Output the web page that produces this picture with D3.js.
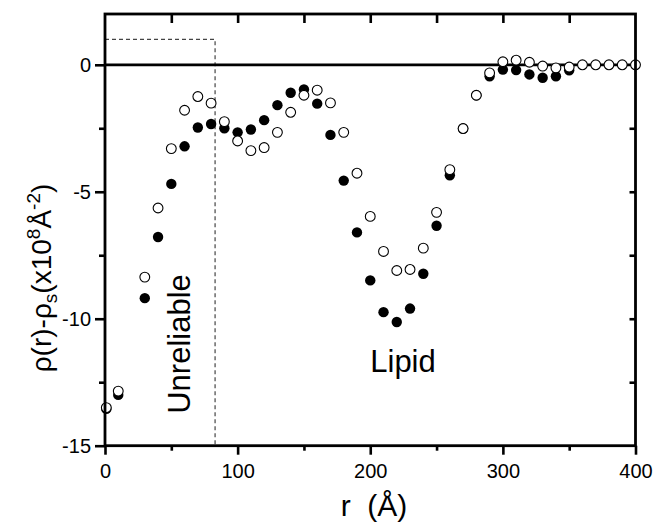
<!DOCTYPE html>
<html><head><meta charset="utf-8">
<script src="https://cdn.jsdelivr.net/npm/d3@7"></script>
<style>body{margin:0;background:#fff}svg{display:block}text{font-family:"Liberation Sans",Arial,sans-serif;fill:#000}</style>
</head><body>
<svg id="c" width="655" height="524"></svg>
<script>
// Data
const rFilled = [1,10,30,40,50,60,70,80,90,100,110,120,130,140,150,160,170,180,190,200,210,220,230,240,250,260,270,280,290,300,310,320,330,340,350];
const vFilled = [-13.55,-13.0,-9.19,-6.78,-4.69,-3.21,-2.47,-2.33,-2.50,-2.66,-2.55,-2.18,-1.59,-1.10,-0.97,-1.53,-2.76,-4.56,-6.60,-8.49,-9.74,-10.13,-9.60,-8.23,-6.34,-4.35,-2.51,-1.20,-0.45,-0.19,-0.21,-0.38,-0.51,-0.45,-0.22];
const rOpen = [1,10,30,40,50,60,70,80,90,100,110,120,130,140,150,160,170,180,190,200,210,220,230,240,250,260,270,280,290,300,310,320,330,340,350,360,370,380,390,400];
const vOpen = [-13.5,-12.85,-8.36,-5.64,-3.30,-1.79,-1.25,-1.51,-2.24,-3.0,-3.38,-3.26,-2.66,-1.87,-1.20,-1.0,-1.50,-2.66,-4.27,-5.97,-7.35,-8.10,-8.06,-7.22,-5.81,-4.13,-2.51,-1.20,-0.32,0.12,0.18,0.10,-0.05,-0.12,-0.09,0,0,0,0,0];
const xTicks = [0,100,200,300,400];
const xMinor = [50,150,250,350];
const yTicks = [-15,-10,-5,0];
const yMinor = [-12.5,-7.5,-2.5];
const unreliable = {r0:0, r1:83, v0:-15, v1:1};

const svg = d3.select("#c");
const L=105, R=635.5, T=14, B=445.7;
const x = d3.scaleLinear().domain([0,400]).range([L,R]);
const y = d3.scaleLinear().domain([-15,2]).range([B,T]);
const fmt = d => String(d);

// dashed unreliable box
svg.append("rect")
  .attr("x", x(unreliable.r0)).attr("y", y(unreliable.v1))
  .attr("width", x(unreliable.r1)-x(unreliable.r0))
  .attr("height", y(unreliable.v0)-y(unreliable.v1))
  .attr("fill","none").attr("stroke","#444").attr("stroke-width",1.2)
  .attr("stroke-dasharray","4,3");

// zero line
svg.append("line").attr("x1",x(0)).attr("x2",x(400)).attr("y1",y(0)).attr("y2",y(0))
  .attr("stroke","#000").attr("stroke-width",2.8);

// points
svg.append("g").selectAll("circle").data(rFilled.map((r,i)=>[r,vFilled[i]])).join("circle")
  .attr("cx",d=>x(d[0])).attr("cy",d=>y(d[1])).attr("r",5.2).attr("fill","#000");
svg.append("g").selectAll("circle").data(rOpen.map((r,i)=>[r,vOpen[i]])).join("circle")
  .attr("cx",d=>x(d[0])).attr("cy",d=>y(d[1])).attr("r",4.9).attr("fill","#fff")
  .attr("stroke","#000").attr("stroke-width",1.1);

// axes
function styleAxis(g){
  g.select(".domain").remove();
  g.selectAll("line").attr("stroke","#000").attr("stroke-width",2.6);
  g.selectAll("text").style("font-family",'"Liberation Sans",Arial,sans-serif').style("font-size","20px").attr("fill","#000");
}
// bottom
svg.append("g").attr("transform",`translate(0,${B})`)
  .call(d3.axisBottom(x).tickValues(xTicks).tickSize(9).tickPadding(9).tickFormat(fmt))
  .call(styleAxis);
svg.append("g").attr("transform",`translate(0,${B})`)
  .call(d3.axisBottom(x).tickValues(xMinor).tickSize(5).tickFormat(""))
  .call(styleAxis);
// left
svg.append("g").attr("transform",`translate(${L},0)`)
  .call(d3.axisLeft(y).tickValues(yTicks).tickSize(10).tickPadding(4).tickFormat(fmt))
  .call(styleAxis);
svg.append("g").attr("transform",`translate(${L},0)`)
  .call(d3.axisLeft(y).tickValues(yMinor).tickSize(6).tickFormat(""))
  .call(styleAxis);
// top (inward)
svg.append("g").attr("transform",`translate(0,${T})`)
  .call(d3.axisBottom(x).tickValues(xMinor.concat(xTicks.slice(1,-1))).tickSize(9).tickFormat(""))
  .call(styleAxis);
// right (inward)
svg.append("g").attr("transform",`translate(${R},0)`)
  .call(d3.axisLeft(y).tickValues(yTicks.concat(yMinor).filter(v=>v>-15 && v<0)).tickSize(6).tickFormat(""))
  .call(styleAxis);

// frame
svg.append("rect").attr("x",L).attr("y",T).attr("width",R-L).attr("height",B-T)
  .attr("fill","none").attr("stroke","#000").attr("stroke-width",2.8);

// labels
svg.append("text").attr("x",403).attr("y",372).attr("text-anchor","middle")
  .style("font-size","31px").text("Lipid");
svg.append("text").attr("transform","translate(190,344) rotate(-90)").attr("text-anchor","middle")
  .style("font-size","31px").text("Unreliable");

// x title
svg.append("text").attr("x",374).attr("y",516).attr("text-anchor","middle")
  .style("font-size","30px").style("white-space","pre").text("r  (Å)");

// y title
const yt = svg.append("text").attr("transform","translate(51,278) rotate(-90)")
  .attr("text-anchor","middle").style("font-size","28px");
yt.append("tspan").text("ρ(r)-ρ");
yt.append("tspan").attr("dy",6).style("font-size","19px").text("s");
yt.append("tspan").attr("dy",-6).text("(x10");
yt.append("tspan").attr("dy",-11).style("font-size","19px").text("8");
yt.append("tspan").attr("dy",11).text("Å");
yt.append("tspan").attr("dy",-11).style("font-size","19px").text("-2");
yt.append("tspan").attr("dy",11).text(")");
</script>
</body></html>
